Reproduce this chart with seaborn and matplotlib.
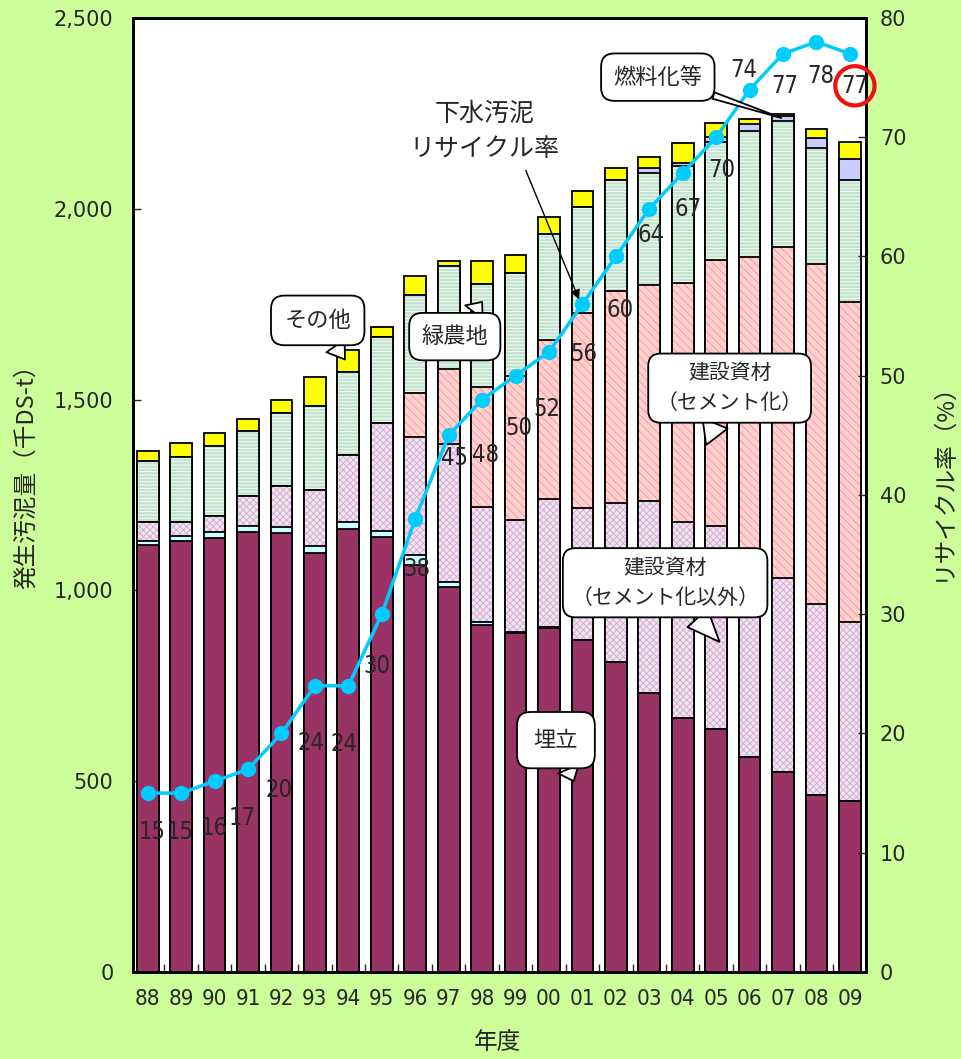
import numpy as np
import pandas as pd
import matplotlib
matplotlib.use("Agg")
import matplotlib.pyplot as plt
import seaborn as sns
from matplotlib.ticker import FuncFormatter, MultipleLocator, FixedLocator

# 年度別 下水汚泥の処分・利用内訳（千DS-t）
years = ["88", "89", "90", "91", "92", "93", "94", "95", "96", "97", "98",
         "99", "00", "01", "02", "03", "04", "05", "06", "07", "08", "09"]
landfill = [1119, 1130, 1138, 1153, 1150, 1097, 1160, 1139, 1067, 1010, 909,
            888, 901, 870, 812, 732, 665, 637, 564, 525, 464, 448]
ocean = [11, 13, 15, 16, 15, 18, 20, 17, 26, 13, 9,
         4, 2, 0, 0, 0, 0, 0, 0, 0, 0, 0]
noncement = [50, 37, 42, 78, 108, 148, 175, 283, 308, 360, 301,
             292, 337, 345, 416, 501, 515, 532, 526, 507, 500, 468]
cement = [0, 0, 0, 0, 0, 0, 0, 0, 117, 197, 315,
          378, 416, 512, 557, 567, 625, 697, 784, 869, 891, 841]
green = [160, 170, 183, 170, 191, 220, 216, 226, 256, 269, 268,
         269, 279, 278, 290, 295, 306, 310, 331, 328, 304, 318]
fuel = [0, 0, 0, 0, 0, 0, 0, 0, 0, 0, 0,
        0, 0, 0, 0, 13, 10, 11, 17, 14, 26, 55]
other = [26, 37, 35, 31, 35, 77, 59, 26, 51, 14, 61,
         48, 44, 42, 31, 29, 51, 39, 13, 5, 23, 46]

# 下水汚泥リサイクル率（%）
rate = [15, 15, 16, 17, 20, 24, 24, 30, 38, 45, 48,
        50, 52, 56, 60, 64, 67, 70, 74, 77, 78, 77]

# label offsets from markers (pixels)
label_offsets = [(4, -39), (-1, -39), (0, -47), (-6, -49), (-2, -57), (-4, -57),
                 (-4, -58), (-5, -52), (2, -50), (6, -23), (3, -55), (3, -52),
                 (-2, -57), (2, -50), (4, -54), (2, -26), (5, -36), (6, -33),
                 (-6, 20), (2, -32), (4, -34), (5, -32)]

df = pd.DataFrame({
    "年度": years, "埋立": landfill, "海洋還元": ocean,
    "建設資材（セメント化以外）": noncement, "建設資材（セメント化）": cement,
    "緑農地": green, "燃料化等": fuel, "その他": other,
})
layers = ["埋立", "海洋還元", "建設資材（セメント化以外）", "建設資材（セメント化）",
          "緑農地", "燃料化等", "その他"]
styles = {
    "埋立": ("#993366", None, None),
    "海洋還元": ("#CCFFFF", None, None),
    "建設資材（セメント化以外）": ("#F2E2F2", "xxxxx", "#CDAACF"),
    "建設資材（セメント化）": ("#FFD0D0", "\\\\\\\\", "#FF9090"),
    "緑農地": ("#C4E4D0", "-----", "white"),
    "燃料化等": ("#CCCCFF", None, None),
    "その他": ("#FFFF00", None, None),
}
cum = df[layers].cumsum(axis=1)

sns.set_theme(style="white")
jp = ["Noto Sans CJK JP", "DejaVu Sans"]
plt.rcParams["font.family"] = jp
plt.rcParams["hatch.linewidth"] = 0.6

fig = plt.figure(figsize=(9.61, 10.59), dpi=100, facecolor="#CCFF99")
ax = fig.add_axes([0.1384, 0.0822, 0.7627, 0.9008])
ax.set_facecolor("white")

for name in reversed(layers):
    face, hatch, hcol = styles[name]
    n0 = len(ax.patches)
    sns.barplot(x=years, y=cum[name].values, order=years, color=face, saturation=1,
                width=0.65, errorbar=None, ax=ax)
    for p in ax.patches[n0:]:
        p.set_facecolor(face)
        p.set_edgecolor(hcol if hcol else face)
        p.set_linewidth(0)
        if hatch:
            p.set_hatch(hatch)
    n1 = len(ax.patches)
    sns.barplot(x=years, y=cum[name].values, order=years, color=face, saturation=1,
                width=0.65, errorbar=None, ax=ax)
    for p in ax.patches[n1:]:
        p.set_facecolor("none")
        p.set_edgecolor("black")
        p.set_linewidth(1.3)

ax.set_xlim(-0.44, 21.48)
ax.set_ylim(0, 2500)
ax.yaxis.set_major_locator(MultipleLocator(500))
ax.yaxis.set_major_formatter(FuncFormatter(lambda v, p: f"{int(v):,}"))
ax.xaxis.set_minor_locator(FixedLocator(np.arange(len(years) + 1) - 0.5))
ax.tick_params(axis="x", which="major", length=0, pad=12)
ax.tick_params(axis="x", which="minor", direction="in", length=6, width=1, bottom=True)
ax.tick_params(axis="y", direction="in", length=6, width=1, left=True, pad=14)
for t in ax.get_xticklabels():
    t.set_fontfamily(["DejaVu Sans"])
    t.set_fontstretch("condensed")
    t.set_fontsize(16)
for t in ax.get_yticklabels():
    t.set_fontfamily(["DejaVu Sans"])
    t.set_fontsize(15)
ax.set_xlabel("年度", fontsize=17)
ax.xaxis.set_label_coords(0.497, -0.062)
ax.set_ylabel("発生汚泥量（千DS-t）", fontsize=17)
ax.yaxis.set_label_coords(-0.130, 0.525)

ax2 = ax.twinx()
sns.lineplot(x=np.arange(len(years)), y=rate, ax=ax2, color="#00CCFF", linewidth=2.5,
             marker="o", markersize=11, markeredgewidth=0)
ax2.set_ylim(0, 80)
ax2.yaxis.set_major_locator(MultipleLocator(10))
ax2.tick_params(axis="y", direction="in", length=6, width=1, right=True, pad=10)
for t in ax2.get_yticklabels():
    t.set_fontfamily(["DejaVu Sans"])
    t.set_fontsize(15)
ax2.set_ylabel("リサイクル率（%）", fontsize=17)
ax2.yaxis.set_label_coords(1.090, 0.52)

for a in (ax, ax2):
    for s in a.spines.values():
        s.set_color("black")
        s.set_linewidth(2)

for i, (v, (dx, dy)) in enumerate(zip(rate, label_offsets)):
    kw = {}
    if i == len(rate) - 1:
        kw["bbox"] = dict(boxstyle="circle,pad=0.26", fc="none", ec="#EE1111", lw=3)
    ax2.annotate(str(v), (i, v), xytext=(dx, dy), textcoords="offset pixels",
                 ha="center", va="center", fontsize=17, family=["DejaVu Sans"],
                 fontstretch="condensed", annotation_clip=False, zorder=6, **kw)


def callout(text, xy, xytext, tail=1.0, size=16, pad=0.55):
    bubble = dict(boxstyle=f"round,pad={pad},rounding_size=0.6", fc="white",
                  ec="black", lw=1.3)
    ax2.annotate(text, xy=xy, xycoords=ax.transData, xytext=xytext,
                 textcoords="axes fraction", ha="center", va="center",
                 fontsize=size, linespacing=1.5, bbox=bubble, zorder=8,
                 arrowprops=dict(arrowstyle=f"wedge,tail_width={tail},shrink_factor=0.5",
                                 fc="white", ec="black", lw=1.3, shrinkA=0, shrinkB=0))


callout("その他", (5.9, 1605), (0.252, 0.683), pad=0.6)
callout("緑農地", (10.0, 1756), (0.439, 0.666))
callout("燃料化等", (18.95, 2238), (0.716, 0.938), tail=0.3)
callout("建設資材\n（セメント化）", (16.7, 1381), (0.814, 0.612), tail=1.3, size=15, pad=0.4)
callout("建設資材\n（セメント化以外）", (17.1, 865), (0.726, 0.408), tail=1.3, size=15, pad=0.4)
callout("埋立", (12.74, 500), (0.577, 0.243), pad=0.75)

ax2.annotate("下水汚泥\nリサイクル率", xy=(12.9, 56.4), xytext=(0.48, 0.881),
             textcoords="axes fraction", ha="center", va="center", fontsize=18,
             linespacing=1.45, zorder=8,
             arrowprops=dict(arrowstyle="-|>", color="black", lw=1, mutation_scale=14,
                             relpos=(0.75, 0), shrinkA=4, shrinkB=0))

fig.savefig("out.png", dpi=100, facecolor=fig.get_facecolor())
